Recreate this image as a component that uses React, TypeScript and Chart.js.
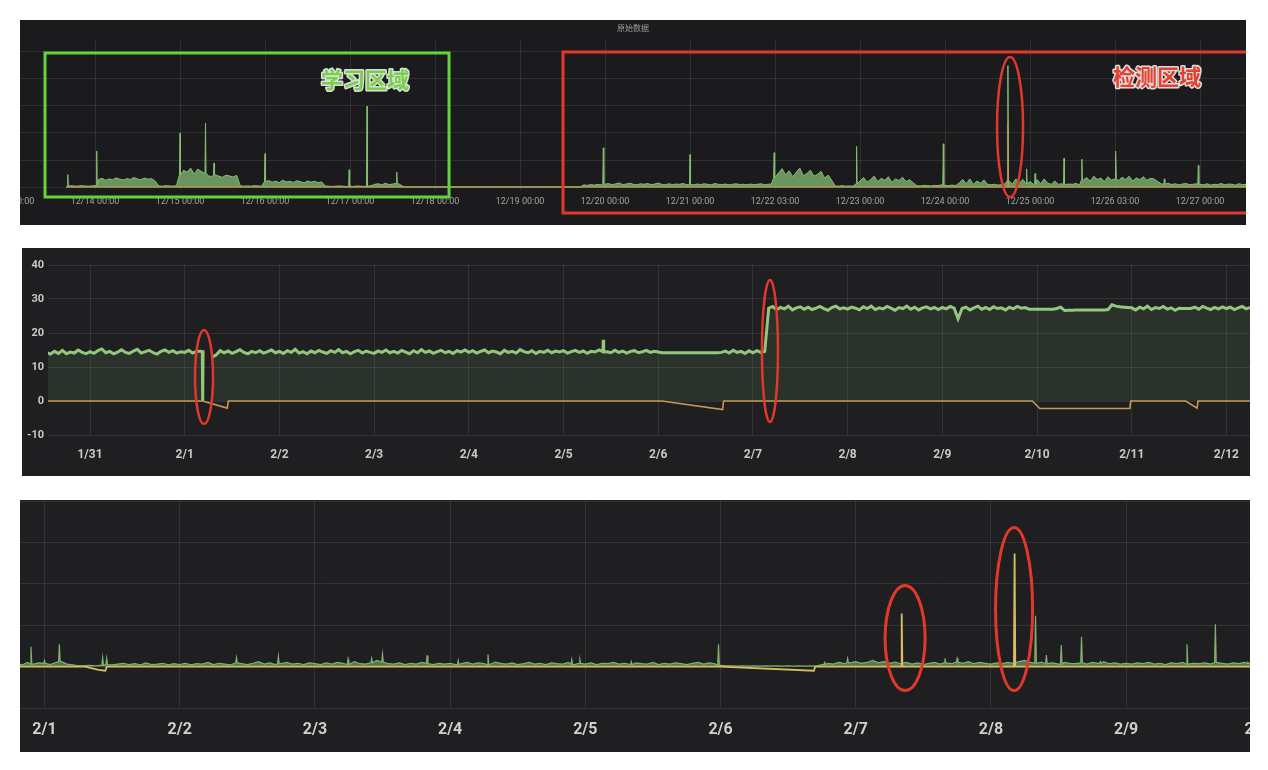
import React, { useEffect, useRef } from "react";
import { Chart, registerables } from "chart.js";

Chart.register(...registerables);

// ---------------- Panel 1: 原始数据 (x in days from 12/13 00:00) ----------------
const P1_TITLE = "原始数据";
const P1_TICK_LABELS = [
  "12/13 00:00", "12/14 00:00", "12/15 00:00", "12/16 00:00", "12/17 00:00",
  "12/18 00:00", "12/19 00:00", "12/20 00:00", "12/21 00:00", "12/22 03:00",
  "12/23 00:00", "12/24 00:00", "12/25 00:00", "12/26 03:00", "12/27 00:00",
];
const P1_Y_TICKS = [0, 1, 2, 3, 4, 5];
// hourly values, index i -> hour i after 12/13 00:00
const P1_GREEN_HOURLY: (number | null)[] = [
  null, null, null, null, null, null, null, null, null, null, null, null, null, null, null, null, 0.03, 0.05, 0.04, 0.03, 0.05, 0.04, 0.03, 0.04,
  0.05, 0.28, 0.32, 0.25, 0.3, 0.27, 0.34, 0.29, 0.26, 0.31, 0.28, 0.35, 0.3, 0.27, 0.33, 0.29, 0.31, 0.22, 0.04, 0.03, 0.05, 0.04, 0.03, 0.05,
  0.45, 0.62, 0.55, 0.7, 0.48, 0.66, 0.58, 0.5, 0.42, 0.38, 0.45, 0.4, 0.36, 0.44, 0.41, 0.37, 0.43, 0.05, 0.03, 0.04, 0.03, 0.05, 0.04, 0.03,
  0.2, 0.24, 0.18, 0.22, 0.16, 0.25, 0.19, 0.21, 0.17, 0.23, 0.2, 0.15, 0.22, 0.18, 0.21, 0.16, 0.19, 0.04, 0.03, 0.02, 0.03, 0.04, 0.03, 0.02,
  0.03, 0.02, 0.04, 0.03, 0.02, 0.03, 0.05, 0.1, 0.12, 0.08, 0.14, 0.09, 0.11, 0.13, 0.1, 0.02, 0, 0, 0, 0, 0, 0, 0, 0,
  0, 0, 0, 0, 0, 0, 0, 0, 0, 0, 0, 0, 0, 0, 0, 0, 0, 0, 0, 0, 0, 0, 0, 0,
  0, 0, 0, 0, 0, 0, 0, 0, 0, 0, 0, 0, 0, 0, 0, 0, 0, 0, 0.08, 0.06, 0.09, 0.07, 0.1, 0.08,
  0.1, 0.13, 0.08, 0.12, 0.15, 0.09, 0.11, 0.14, 0.1, 0.08, 0.12, 0.1, 0.13, 0.09, 0.11, 0.15, 0.1, 0.08, 0.12, 0.09, 0.11, 0.1, 0.13, 0.09,
  0.1, 0.08, 0.11, 0.09, 0.12, 0.1, 0.08, 0.13, 0.1, 0.09, 0.11, 0.08, 0.1, 0.12, 0.09, 0.1, 0.08, 0.11, 0.09, 0.1, 0.12, 0.08, 0.1, 0.11,
  0.35, 0.52, 0.68, 0.45, 0.6, 0.38, 0.55, 0.7, 0.42, 0.5, 0.62, 0.4, 0.47, 0.58, 0.33, 0.44, 0.25, 0.04, 0.03, 0.05, 0.03, 0.04, 0.03, 0.12,
  0.22, 0.35, 0.18, 0.28, 0.4, 0.2, 0.32, 0.25, 0.38, 0.17, 0.3, 0.24, 0.36, 0.2, 0.27, 0.16, 0.05, 0.04, 0.06, 0.05, 0.04, 0.06, 0.05, 0.08,
  0.06, 0.05, 0.07, 0.05, 0.15, 0.28, 0.12, 0.3, 0.1, 0.22, 0.14, 0.26, 0.1, 0.08, 0.1, 0.07, 0.09, 0.12, 0.25, 0.1, 0.3, 0.15, 0.28, 0.12,
  0.2, 0.1, 0.28, 0.12, 0.3, 0.14, 0.1, 0.22, 0.1, 0.12, 0.09, 0.11, 0.1, 0.13, 0.08, 0.25, 0.35, 0.22, 0.4, 0.28, 0.33, 0.2, 0.38, 0.26,
  0.3, 0.24, 0.36, 0.28, 0.4, 0.22, 0.34, 0.27, 0.38, 0.25, 0.32, 0.3, 0.21, 0.12, 0.1, 0.14, 0.09, 0.12, 0.08, 0.11, 0.13, 0.09, 0.1, 0.12,
  0.1, 0.08, 0.12, 0.07, 0.1, 0.09, 0.13, 0.08, 0.11, 0.1, 0.07, 0.12, 0.09, 0.1, 0.08,
];
// [day, value]
const P1_GREEN_SPIKES: [number, number][] = [
  [0.68, 0.46], [1.02, 1.33], [2.0, 2.0], [2.3, 2.37], [2.4, 0.89], [3.0, 1.24],
  [3.99, 0.64], [4.2, 3.0], [4.55, 0.55], [6.98, 1.45], [8.0, 1.2], [8.99, 1.27],
  [9.96, 1.5], [10.98, 1.6], [11.74, 4.5], [11.96, 0.67], [12.06, 0.5], [12.4, 1.07],
  [12.61, 1.03], [13.01, 1.33], [13.58, 0.3], [13.98, 0.8],
];
const P1_YELLOW: [number, number][] = [
  [0.66, 0], [11.734, 0], [11.74, 2.4], [11.746, 0], [14.6, 0],
];

// ---------------- Panel 2 (x in days from 1/31 00:00) ----------------
const P2_TICK_LABELS = ["1/31", "2/1", "2/2", "2/3", "2/4", "2/5", "2/6", "2/7", "2/8", "2/9", "2/10", "2/11", "2/12"];
const P2_Y_TICKS = [-10, 0, 10, 20, 30, 40];
const P2_START_HOUR = -11;
const P2_GREEN_HOURLY: (number | null)[] = [
  14.2, 13.8, 14.6, 14.0, 14.9, 13.9, 14.4, 14.1, 15.0, 14.3, 13.9,
  14.5, 14.0, 14.8, 15.3, 14.2, 14.6, 13.9, 14.4, 15.1, 14.3, 14.0, 14.7, 15.2, 14.1, 14.5, 14.9, 14.2, 13.8, 14.6, 15.0, 14.3, 14.8, 14.1, 14.5,
  14.3, 14.9, 14.1, 14.6, 14.6, 14.5, null, 12.9, 13.6, 14.8, 14.2, 14.7, 14.0, 14.5, 15.1, 14.3, 13.9, 14.6, 14.2, 14.8, 14.1, 14.5, 15.0, 14.2,
  14.6, 14.0, 14.8, 14.3, 15.2, 14.1, 14.5, 13.9, 14.7, 14.2, 14.9, 14.4, 14.0, 14.8, 14.3, 15.1, 14.2, 14.6, 13.9, 14.5, 14.9, 14.1, 14.7, 14.3,
  14.0, 14.7, 14.3, 15.0, 14.2, 14.6, 14.1, 14.9, 14.4, 13.9, 14.8, 14.2, 15.1, 14.3, 14.7, 14.0, 14.5, 14.9, 14.2, 14.6, 14.0, 14.8, 14.4, 15.0,
  14.3, 14.8, 14.1, 14.6, 15.0, 14.2, 14.7, 14.4, 13.9, 14.9, 14.3, 14.6, 14.1, 15.1, 14.5, 14.2, 14.8, 14.0, 14.6, 14.3, 14.9, 14.2, 14.7, 14.4,
  14.8, 14.1, 14.5, 14.9, 14.3, 14.7, 14.0, 14.6, 14.4, 15.0, 14.5, 14.5, 14.2, 14.9, 14.3, 14.7, 14.1, 14.6, 14.8, 14.2, 14.5, 14.9, 14.3, 14.6,
  14.4, 14.2, 14.2, 14.2, 14.2, 14.2, 14.2, 14.2, 14.2, 14.2, 14.2, 14.2, 14.2, 14.2, 14.2, 14.2, 14.3, 14.7, 14.1, 14.9, 14.3, 14.6, 14.0, 14.8,
  14.2, 14.8, 14.3, 14.6, 27.3, 27.8, 26.9, 27.5, 27.1, 27.9, 26.8, 27.4, 27.7, 27.0, 27.6, 26.9, 27.3, 27.8, 27.2, 26.7, 27.5, 27.9, 27.1, 27.4,
  27.0, 27.6, 27.3, 26.8, 27.7, 27.2, 27.9, 26.9, 27.4, 27.1, 27.8, 27.3, 26.7, 27.5, 27.2, 27.9, 27.0, 27.6, 26.8, 27.4, 27.7, 27.1, 27.5, 26.9,
  27.5, 27.1, 27.8, 27.3, 24.2, 27.2, 27.6, 26.8, 27.4, 27.9, 27.0, 27.5, 26.9, 27.7, 27.2, 27.4, 26.8, 27.6, 27.1, 27.8, 27.3, 27.5, 27.0, 27.0,
  27.0, 27.0, 27.0, 27.0, 27.0, 27.2, 27.6, 26.6, 26.7, 26.7, 26.8, 26.8, 26.8, 26.8, 26.8, 26.8, 26.8, 26.8, 26.9, 28.3, 27.9, 27.7, 27.6, 27.5,
  27.4, 26.8, 27.6, 27.1, 27.9, 26.9, 27.5, 27.2, 27.8, 27.0, 27.4, 26.7, 27.3, 27.2, 27.2, 27.2, 27.6, 27.0, 27.8, 27.3, 26.9, 27.5, 27.1, 27.7,
  27.2, 27.6, 26.9, 27.4, 27.8, 27.1, 27.5, 27.0,
];
// narrow excursions of the green series [day, value]
const P2_GREEN_SPIKES: [number, number][] = [
  [1.19, 0], [5.42, 18.0],
];
const P2_YELLOW: [number, number][] = [
  [-0.46, 0], [1.19, 0], [1.45, -2.1], [1.46, 0], [6.04, 0], [6.68, -2.5], [6.69, 0],
  [9.95, 0], [10.03, -2.2], [10.98, -2.2], [10.99, 0], [11.57, 0], [11.69, -2.1], [11.7, 0], [12.3, 0],
];

// ---------------- Panel 3 (x in days from 2/1 00:00) ----------------
const P3_TICK_LABELS = ["2/1", "2/2", "2/3", "2/4", "2/5", "2/6", "2/7", "2/8", "2/9", "2/10"];
const P3_Y_TICKS = [-1, 0, 1, 2, 3, 4];
const P3_START_HOUR = -6;
const P3_GREEN_HOURLY: (number | null)[] = [
  0.05, 0.08, 0.04, 0.1, 0.06, 0.09,
  0.08, 0.05, 0.1, 0.12, 0.06, 0.04, 0.02, 0.02, 0.03, 0.02, 0.03, 0.05, 0.04, 0.06, 0.08, 0.05, 0.07, 0.04, 0.09, 0.05, 0.06, 0.08, 0.04, 0.07,
  0.05, 0.08, 0.04, 0.07, 0.06, 0.1, 0.05, 0.08, 0.06, 0.04, 0.09, 0.07, 0.05, 0.08, 0.12, 0.06, 0.09, 0.05, 0.07, 0.1, 0.06, 0.08, 0.05, 0.09,
  0.07, 0.05, 0.09, 0.06, 0.1, 0.08, 0.05, 0.12, 0.07, 0.06, 0.09, 0.15, 0.11, 0.07, 0.06, 0.09, 0.05, 0.08, 0.06, 0.1, 0.07, 0.05, 0.08, 0.06,
  0.08, 0.05, 0.07, 0.1, 0.06, 0.09, 0.07, 0.05, 0.11, 0.08, 0.06, 0.09, 0.05, 0.07, 0.1, 0.06, 0.08, 0.05, 0.09, 0.07, 0.06, 0.1, 0.05, 0.08,
  0.06, 0.09, 0.05, 0.08, 0.07, 0.1, 0.06, 0.08, 0.05, 0.09, 0.07, 0.06, 0.1, 0.05, 0.08, 0.06, 0.09, 0.07, 0.05, 0.08, 0.1, 0.06, 0.09, 0.07,
  0.03, 0.02, 0.02, 0.01, 0.02, 0.01, 0.02, 0.01, 0.02, 0.01, 0.02, 0.01, 0.02, 0.01, 0.02, 0.01, 0.02, 0.01, 0.05, 0.08, 0.06, 0.1, 0.07, 0.09,
  0.12, 0.08, 0.1, 0.15, 0.09, 0.12, 0.08, 0.11, 0.07, 0.1, 0.06, 0.09, 0.05, 0.08, 0.1, 0.06, 0.09, 0.07, 0.11, 0.08, 0.12, 0.07, 0.1, 0.08,
  0.06, 0.09, 0.07, 0.1, 0.08, 0.12, 0.15, 0.1, 0.08, 0.11, 0.07, 0.09, 0.06, 0.1, 0.08, 0.07, 0.09, 0.06, 0.1, 0.08, 0.12, 0.07, 0.09, 0.06,
  0.08, 0.06, 0.09, 0.07, 0.1, 0.06, 0.08, 0.05, 0.09, 0.07, 0.1, 0.06, 0.08, 0.07, 0.09, 0.06, 0.1, 0.08, 0.06, 0.09, 0.07, 0.1, 0.08, 0.06,
];
const P3_GREEN_SPIKES: [number, number][] = [
  [-0.1, 0.48], [0.0, 0.15], [0.11, 0.54], [0.43, 0.22], [0.46, 0.2], [1.42, 0.22],
  [1.73, 0.25], [2.245, 0.18], [2.42, 0.2], [2.5, 0.3], [2.83, 0.27], [3.06, 0.15],
  [3.28, 0.3], [3.9, 0.17], [3.96, 0.17], [4.34, 0.12], [4.985, 0.54], [5.77, 0.1],
  [5.94, 0.2], [6.66, 0.2], [6.75, 0.2], [7.33, 1.23], [7.41, 0.28], [7.52, 0.52],
  [7.67, 0.72], [7.81, 0.12], [8.45, 0.54], [8.66, 1.02], [8.9, 0.1],
];
const P3_YELLOW: [number, number][] = [
  [-0.25, 0], [0.3, 0], [0.4, -0.08], [0.45, -0.1], [0.46, 0], [5.0, 0], [5.69, -0.1], [5.7, 0],
  [6.335, 0], [6.34, 1.28], [6.345, 0], [7.17, 0], [7.175, 2.73], [7.18, 0], [9.0, 0],
];

// ---------------- annotations (data coordinates) ----------------
type Ann =
  | { kind: "rect"; x1: number; x2: number; y1: number; y2: number; color: string; width: number }
  | { kind: "ellipse"; cx: number; cy: number; rx: number; ry: number; color: string; width: number }
  | { kind: "text"; x: number; y: number; text: string; color: string; size: number };

const RED = "#e2382c";
const P1_ANN: Ann[] = [
  { kind: "rect", x1: 0.412, x2: 5.165, y1: 4.963, y2: -0.37, color: "#62d33b", width: 3 },
  { kind: "rect", x1: 6.506, x2: 16, y1: 5.0, y2: -0.963, color: RED, width: 3 },
  { kind: "ellipse", cx: 11.765, cy: 2.222, rx: 0.153, ry: 2.593, color: RED, width: 2.5 },
  { kind: "text", x: 4.176, y: 3.96, text: "学习区域", color: "#76d248", size: 22 },
  { kind: "text", x: 13.494, y: 4.07, text: "检测区域", color: "#e6402f", size: 22 },
];
const P2_ANN: Ann[] = [
  { kind: "ellipse", cx: 1.204, cy: 7.06, rx: 0.095, ry: 13.8, color: RED, width: 2.5 },
  { kind: "ellipse", cx: 7.18, cy: 14.7, rx: 0.0845, ry: 20.9, color: RED, width: 2.5 },
];
const P3_ANN: Ann[] = [
  { kind: "ellipse", cx: 6.365, cy: 0.69, rx: 0.148, ry: 1.27, color: RED, width: 3 },
  { kind: "ellipse", cx: 7.171, cy: 1.39, rx: 0.137, ry: 1.97, color: RED, width: 3 },
];

const GRID = "rgba(255,255,255,0.09)";
const GREEN = "#7eb26d";

function buildSeries(hourly: (number | null)[], startHour: number, spikes: [number, number][], half: number) {
  const pts: { x: number; y: number | null }[] = [];
  hourly.forEach((v, i) => {
    const x = (i + startHour) / 24;
    if (spikes.some(([t]) => Math.abs(t - x) < half * 1.5)) return;
    pts.push({ x, y: v });
  });
  spikes.forEach(([t, v]) => {
    const b = hourly[Math.round(t * 24) - startHour] ?? 0;
    pts.push({ x: t - half, y: b }, { x: t, y: v }, { x: t + half, y: b });
  });
  pts.sort((a, b) => a.x - b.x);
  return pts;
}

function pairs(list: [number, number][]) {
  return list.map(([x, y]) => ({ x, y }));
}

function annPlugin(id: string, anns: Ann[]) {
  return {
    id,
    afterDatasetsDraw(chart: any) {
      const { ctx } = chart;
      const xs = chart.scales.x;
      const ys = chart.scales.y;
      ctx.save();
      for (const a of anns) {
        if (a.kind === "rect") {
          const x1 = xs.getPixelForValue(a.x1), x2 = xs.getPixelForValue(a.x2);
          const y1 = ys.getPixelForValue(a.y1), y2 = ys.getPixelForValue(a.y2);
          ctx.strokeStyle = a.color;
          ctx.lineWidth = a.width;
          ctx.strokeRect(x1, y1, x2 - x1, y2 - y1);
        } else if (a.kind === "ellipse") {
          const cx = xs.getPixelForValue(a.cx), cy = ys.getPixelForValue(a.cy);
          const rx = Math.abs(xs.getPixelForValue(a.cx + a.rx) - cx);
          const ry = Math.abs(ys.getPixelForValue(a.cy + a.ry) - cy);
          ctx.strokeStyle = a.color;
          ctx.lineWidth = a.width;
          ctx.beginPath();
          ctx.ellipse(cx, cy, rx, ry, 0, 0, Math.PI * 2);
          ctx.stroke();
        } else {
          const px = xs.getPixelForValue(a.x), py = ys.getPixelForValue(a.y);
          ctx.font = `bold ${a.size}px "Noto Sans CJK SC", sans-serif`;
          ctx.textAlign = "center";
          ctx.textBaseline = "middle";
          ctx.lineJoin = "round";
          ctx.strokeStyle = "rgba(255,255,255,0.85)";
          ctx.lineWidth = 3;
          ctx.strokeText(a.text, px, py);
          ctx.fillStyle = a.color;
          ctx.fillText(a.text, px, py);
        }
      }
      ctx.restore();
    },
  };
}

function xScale(min: number, max: number, labels: string[], height: number, font: any, color: string, padding: number) {
  return {
    type: "linear",
    min,
    max,
    afterBuildTicks: (s: any) => {
      s.ticks = labels.map((_, i) => ({ value: i }));
    },
    afterFit: (s: any) => {
      s.height = height;
      s.paddingLeft = 0;
      s.paddingRight = 0;
    },
    grid: { color: GRID, drawTicks: false },
    border: { display: false },
    ticks: {
      autoSkip: false,
      maxRotation: 0,
      minRotation: 0,
      padding,
      color,
      font,
      callback: (_v: any, i: number) => labels[i],
    },
  };
}

function yScale(min: number, max: number, ticks: number[], width: number, show: boolean) {
  return {
    type: "linear",
    min,
    max,
    afterBuildTicks: (s: any) => {
      s.ticks = ticks.map((v) => ({ value: v }));
    },
    afterFit: (s: any) => {
      s.width = width;
      s.paddingTop = 0;
      s.paddingBottom = 0;
    },
    grid: { color: GRID, drawTicks: false },
    border: { display: false },
    ticks: {
      display: show,
      padding: 4,
      color: "#c9c9c9",
      font: { family: "Roboto", weight: "bold", size: 11 },
    },
  };
}

function config1(): any {
  return {
    type: "line",
    data: {
      datasets: [
        { data: pairs(P1_YELLOW), borderColor: "#b49d5c", borderWidth: 1.3, pointRadius: 0, fill: false },
        {
          data: buildSeries(P1_GREEN_HOURLY, 0, P1_GREEN_SPIKES, 0.006),
          borderColor: "#86bd72", backgroundColor: "rgba(134,190,115,0.75)", borderWidth: 1, pointRadius: 0, fill: "origin",
        },
      ],
    },
    options: {
      animation: false,
      responsive: false,
      layout: { padding: 0 },
      plugins: {
        legend: { display: false },
        tooltip: { enabled: false },
        title: {
          display: true, text: P1_TITLE, color: "#9b9b9b",
          font: { size: 8, family: "Noto Sans CJK SC", weight: "normal" }, padding: { top: 3, bottom: 7.4 },
        },
      },
      scales: {
        x: xScale(0.1176, 14.541, P1_TICK_LABELS, 35, { family: "Roboto", size: 9 }, "#a3a3a3", 6),
        y: yScale(-0.111, 5.444, P1_Y_TICKS, 0, false),
      },
    },
    plugins: [annPlugin("ann1", P1_ANN)],
  };
}

function config2(): any {
  return {
    type: "line",
    data: {
      datasets: [
        { data: pairs(P2_YELLOW), borderColor: "#c49a52", borderWidth: 1.6, pointRadius: 0, fill: false },
        {
          data: buildSeries(P2_GREEN_HOURLY, P2_START_HOUR, P2_GREEN_SPIKES, 0.004),
          borderColor: "#93c77d", backgroundColor: "rgba(126,178,109,0.13)", borderWidth: 3, pointRadius: 0, fill: "origin",
        },
      ],
    },
    options: {
      animation: false,
      responsive: false,
      layout: { padding: { top: 17, left: 0, right: 0, bottom: 0 } },
      plugins: { legend: { display: false }, tooltip: { enabled: false } },
      scales: {
        x: xScale(-0.4435, 12.249, P2_TICK_LABELS, 41, { family: "Roboto", weight: "bold", size: 12 }, "#c9c9c9", 13),
        y: yScale(-10, 40, P2_Y_TICKS, 26, true),
      },
    },
    plugins: [annPlugin("ann2", P2_ANN)],
  };
}

function config3(): any {
  return {
    type: "line",
    data: {
      datasets: [
        { data: pairs(P3_YELLOW), borderColor: "#d6bd62", borderWidth: 1.8, pointRadius: 0, fill: false },
        {
          data: buildSeries(P3_GREEN_HOURLY, P3_START_HOUR, P3_GREEN_SPIKES, 0.006),
          borderColor: GREEN, backgroundColor: "rgba(126,178,109,0.6)", borderWidth: 1.2, pointRadius: 0, fill: "origin",
        },
      ],
    },
    options: {
      animation: false,
      responsive: false,
      layout: { padding: { top: 1, left: 0, right: 0, bottom: 0 } },
      plugins: { legend: { display: false }, tooltip: { enabled: false } },
      scales: {
        x: xScale(-0.1812, 8.916, P3_TICK_LABELS, 44, { family: "Roboto", weight: "bold", size: 16 }, "#cfcfcf", 12),
        y: yScale(-1, 4, P3_Y_TICKS, 0, false),
      },
    },
    plugins: [annPlugin("ann3", P3_ANN)],
  };
}

function Panel(props: { left: number; top: number; width: number; height: number; bg: string; make: () => any }) {
  const ref = useRef<HTMLCanvasElement>(null);
  useEffect(() => {
    const chart = new Chart(ref.current as HTMLCanvasElement, props.make());
    return () => chart.destroy();
  }, []);
  return (
    <div style={{ position: "absolute", left: props.left, top: props.top, width: props.width, height: props.height, background: props.bg, overflow: "hidden" }}>
      <canvas ref={ref} width={props.width} height={props.height} style={{ display: "block" }} />
    </div>
  );
}

export default function App() {
  return (
    <div style={{ position: "absolute", left: 0, top: 0, width: 1268, height: 770, background: "#ffffff", overflow: "hidden" }}>
      <Panel left={20} top={20} width={1226} height={205} bg="#1b1b1e" make={config1} />
      <Panel left={22} top={248} width={1228} height={228} bg="#1f1f22" make={config2} />
      <Panel left={20} top={500} width={1230} height={252} bg="#1f1f22" make={config3} />
    </div>
  );
}
